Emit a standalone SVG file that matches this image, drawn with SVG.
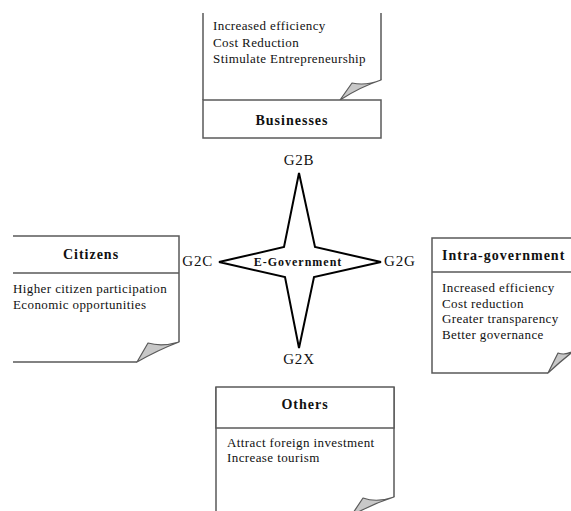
<svg xmlns="http://www.w3.org/2000/svg" width="571" height="511" viewBox="0 0 571 511">
<style>
.ln{fill:none;stroke:#5a5a5a;stroke-width:1.5}
.bx{fill:#fff;stroke:#5a5a5a;stroke-width:1.5}
.flap{fill:#c8c8c8;stroke:#5a5a5a;stroke-width:1.2;stroke-linejoin:round}
.t{font-family:"Liberation Serif","Times New Roman",serif;font-size:13px;letter-spacing:0.4px;fill:#111}
.h{font-family:"Liberation Serif","Times New Roman",serif;font-size:14px;font-weight:bold;letter-spacing:1px;fill:#111}
.g{font-family:"Liberation Serif","Times New Roman",serif;font-size:15px;letter-spacing:0.8px;fill:#111}
</style>
<rect width="571" height="511" fill="#fff"/>
<g id="connectors">
<path d="M299,173 L315,247 L381,262 L314,277 L299,348 L285,277 L219,262 L284,247 Z" fill="#fff" stroke="#000" stroke-width="2" stroke-linejoin="miter"/>
</g>
<g id="egov">
<text class="h" x="298" y="266" text-anchor="middle" style="font-size:12px">E-Government</text>
<text class="g" x="299" y="165" text-anchor="middle">G2B</text>
<text class="g" x="213" y="266" text-anchor="end">G2C</text>
<text class="g" x="384" y="266">G2G</text>
<text class="g" x="299" y="364" text-anchor="middle">G2X</text>
</g>
<g id="businesses">
<path class="ln" d="M203,13 V100 M381,13 V80"/>
<path class="flap" d="M381,80 Q366,86 352,83 L340,100 Q360,87 381,80 Z"/>
<rect class="bx" x="203" y="100" width="178" height="38"/>
<text class="h" x="292" y="125" text-anchor="middle">Businesses</text>
<text class="t" x="213" y="30">Increased efficiency</text>
<text class="t" x="213" y="46.5">Cost Reduction</text>
<text class="t" x="213" y="63">Stimulate Entrepreneurship</text>
</g>
<g id="citizens">
<path class="ln" d="M13,236 H179 V342 M13,273 H179 M13,362 H137"/>
<path class="flap" d="M179,342 Q162,347 148,343 L137,362 Q158,350 179,342 Z"/>
<text class="h" x="91" y="259" text-anchor="middle">Citizens</text>
<text class="t" x="13" y="293">Higher citizen participation</text>
<text class="t" x="13" y="309">Economic opportunities</text>
</g>
<g id="intragov">
<path class="ln" d="M571,238 H432 V373 H548 M432,272 H571"/>
<path class="flap" d="M575,350 Q566,356 558,353 L548,373 Q562,360 575,350 Z"/>
<text class="h" x="442" y="260">Intra-government</text>
<text class="t" x="442" y="292">Increased efficiency</text>
<text class="t" x="442" y="307.5">Cost reduction</text>
<text class="t" x="442" y="323">Greater transparency</text>
<text class="t" x="442" y="338.5">Better governance</text>
</g>
<g id="others">
<path class="ln" d="M216,387 V515 M394,387 V497"/>
<path class="flap" d="M394,497 Q377,503 363,498 L351,516 Q372,504 394,497 Z"/>
<rect class="bx" x="216" y="387" width="178" height="41"/>
<text class="h" x="305" y="409" text-anchor="middle">Others</text>
<text class="t" x="227" y="447">Attract foreign investment</text>
<text class="t" x="227" y="462">Increase tourism</text>
</g>
</svg>
